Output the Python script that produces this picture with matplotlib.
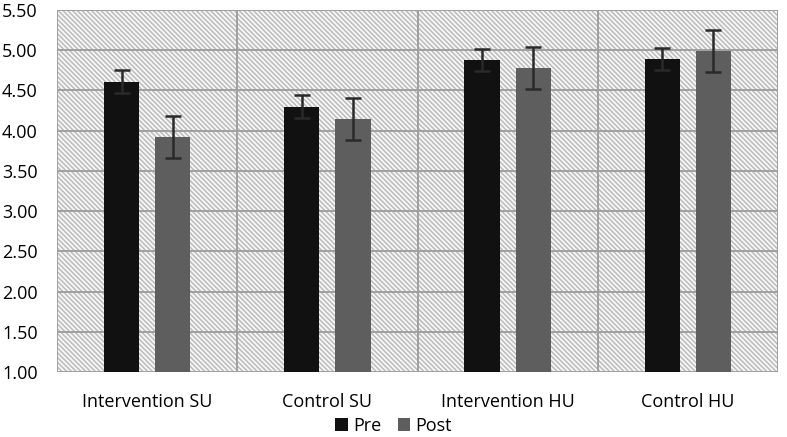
import matplotlib
matplotlib.use("Agg")
import matplotlib.pyplot as plt
import numpy as np
from matplotlib.patches import Rectangle

categories = ["Intervention SU", "Control SU", "Intervention HU", "Control HU"]
pre_values = [4.61, 4.30, 4.88, 4.89]
post_values = [3.92, 4.15, 4.78, 4.99]
pre_err = [0.14, 0.14, 0.14, 0.14]
post_err = [0.26, 0.26, 0.26, 0.26]
series_names = ["Pre", "Post"]
yticks = [1.00, 1.50, 2.00, 2.50, 3.00, 3.50, 4.00, 4.50, 5.00, 5.50]

plt.rcParams['font.family'] = ['Open Sans', 'DejaVu Sans']
plt.rcParams['hatch.linewidth'] = 1.1
plt.rcParams['hatch.color'] = '#bcbcbc'

fig = plt.figure(figsize=(7.87, 4.37), dpi=100)
ax = fig.add_axes([57/787, 1 - 372/437, 721/787, 362/437])

x = np.arange(len(categories))
w = 0.195
off = 0.142

# hatched background
bg = Rectangle((0, 0), 1, 1, transform=ax.transAxes, facecolor='#f7f7f7',
               edgecolor='#bcbcbc', hatch='\\' * 7, linewidth=0, zorder=0)
ax.add_patch(bg)

ax.set_xlim(-0.5, len(categories) - 0.5)
ax.set_ylim(1.0, 5.5)
ax.set_yticks(yticks)
ax.set_yticklabels([f"{v:.2f}" for v in yticks])

for yv in yticks:
    ax.axhline(yv, color='#a0a0a0', lw=1.4, zorder=1)
for xv in np.arange(-0.5, len(categories), 1.0):
    ax.axvline(xv, color='#a0a0a0', lw=1.4, zorder=1)

ax.bar(x - off, np.array(pre_values) - 1.0, w, bottom=1.0, color='#111111',
       label=series_names[0], zorder=2)
ax.bar(x + off, np.array(post_values) - 1.0, w, bottom=1.0, color='#5e5e5e',
       label=series_names[1], zorder=2)
ax.errorbar(x - off, pre_values, yerr=pre_err, fmt='none', ecolor='#2a2a2a',
            elinewidth=1.8, capsize=6, capthick=1.8, zorder=3)
ax.errorbar(x + off, post_values, yerr=post_err, fmt='none', ecolor='#2a2a2a',
            elinewidth=1.8, capsize=6, capthick=1.8, zorder=3)

ax.set_xticks(x)
ax.set_xticklabels(categories, fontsize=13)
ax.tick_params(axis='y', labelsize=13, length=0, pad=14)
ax.tick_params(axis='x', length=0, pad=15)
for s in ax.spines.values():
    s.set_visible(False)

fig.legend(loc='center', bbox_to_anchor=(0.5, 11/437), ncol=2, frameon=False,
           fontsize=13, handlelength=0.7, handleheight=0.7, handletextpad=0.3,
           columnspacing=0.9, borderpad=0)

fig.savefig("out.png", dpi=100)
